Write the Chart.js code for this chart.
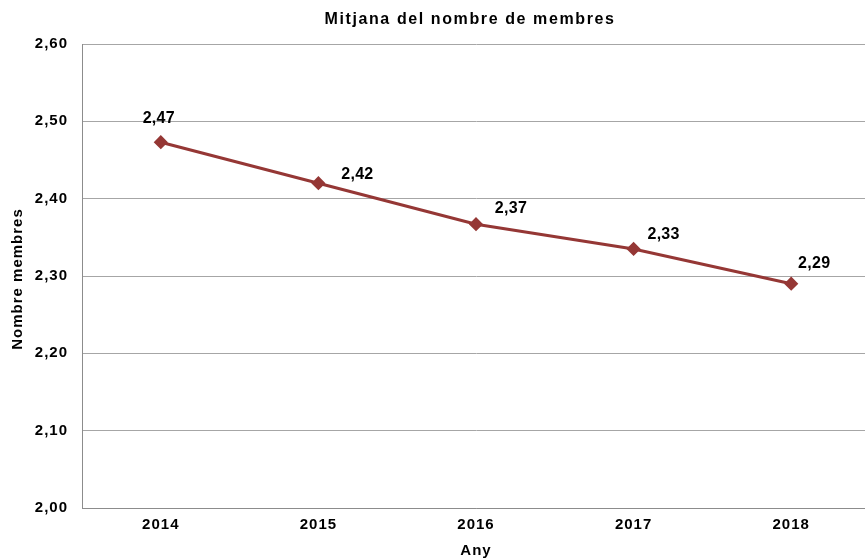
<!DOCTYPE html>
<html>
<head>
<meta charset="utf-8">
<script src="https://cdn.jsdelivr.net/npm/chart.js@4.4.1/dist/chart.umd.min.js"></script>
<style>
    html, body { margin: 0; padding: 0; background: #fff; overflow: hidden; }
    #wrap { width: 878px; height: 560px; }
</style>
</head>
<body>
<div id="wrap"><canvas id="chart"></canvas></div>
<script>
// Chart data
const years = ['2014', '2015', '2016', '2017', '2018'];
const avgMembers = [2.473, 2.420, 2.367, 2.335, 2.290];
const valueLabels = ['2,47', '2,42', '2,37', '2,33', '2,29'];

const lineColor = '#953735';
const fontFamily = '"Liberation Sans", Arial, sans-serif';
const chartTitle = 'Mitjana del nombre de membres';
const yTitle = 'Nombre membres';

// Label offsets relative to each point (the original labels were hand-placed)
const labelShift = [[-2, -24], [39, -9], [35, -16], [30, -14], [23, -20]];

// The original text is slightly wide-set; give axis strings some tracking
const trackingPlugin = {
    id: 'tracking',
    beforeDraw(chart) {
        chart.ctx.letterSpacing = '1px';
    }
};

// Title, rotated axis title and value labels
const textPlugin = {
    id: 'texts',
    afterDatasetsDraw(chart) {
        const ctx = chart.ctx;
        const area = chart.chartArea;
        const meta = chart.getDatasetMeta(0);
        ctx.save();
        ctx.fillStyle = '#000';
        ctx.textAlign = 'center';
        ctx.textBaseline = 'middle';

        ctx.letterSpacing = '0.3px';
        ctx.font = 'bold 16px ' + fontFamily;
        meta.data.forEach((pt, i) => {
            ctx.fillText(valueLabels[i], pt.x + labelShift[i][0], pt.y + labelShift[i][1]);
        });

        ctx.letterSpacing = '1.6px';
        ctx.font = 'bold 16px ' + fontFamily;
        ctx.fillText(chartTitle, (area.left + area.right) / 2 - 6, 20);

        ctx.letterSpacing = '1px';
        ctx.font = 'bold 15px ' + fontFamily;
        ctx.translate(18, (area.top + area.bottom) / 2 + 3);
        ctx.rotate(-Math.PI / 2);
        ctx.fillText(yTitle, 0, 0);
        ctx.restore();
    }
};

new Chart(document.getElementById('chart'), {
    type: 'line',
    data: {
        labels: years,
        datasets: [{
            data: avgMembers,
            borderColor: lineColor,
            backgroundColor: lineColor,
            borderWidth: 3,
            pointStyle: 'rectRot',
            pointRadius: 5,
            pointHoverRadius: 5,
            tension: 0
        }]
    },
    options: {
        responsive: true,
        maintainAspectRatio: false,
        animation: false,
        layout: { padding: { top: 44, left: 0, right: 0, bottom: 0 } },
        plugins: {
            legend: { display: false },
            tooltip: { enabled: false },
            title: { display: false }
        },
        scales: {
            x: {
                offset: true,
                grid: { display: false, drawTicks: false, offset: true },
                border: { color: '#8c8c8c', width: 1 },
                ticks: {
                    color: '#000',
                    padding: 8,
                    font: { family: fontFamily, size: 15, weight: 'bold' }
                },
                title: {
                    display: true,
                    text: 'Any',
                    color: '#000',
                    padding: { top: 6, bottom: 0 },
                    font: { family: fontFamily, size: 15, weight: 'bold' }
                },
                afterFit(scale) { scale.height = 52; }
            },
            y: {
                min: 2.0,
                max: 2.6,
                grid: { color: '#a6a6a6', drawTicks: false },
                border: { color: '#8c8c8c', width: 1 },
                ticks: {
                    stepSize: 0.1,
                    color: '#000',
                    padding: 14,
                    font: { family: fontFamily, size: 15, weight: 'bold' },
                    callback: v => v.toFixed(2).replace('.', ',')
                },
                afterFit(scale) { scale.width = 82; }
            }
        }
    },
    plugins: [trackingPlugin, textPlugin]
});
</script>
</body>
</html>
